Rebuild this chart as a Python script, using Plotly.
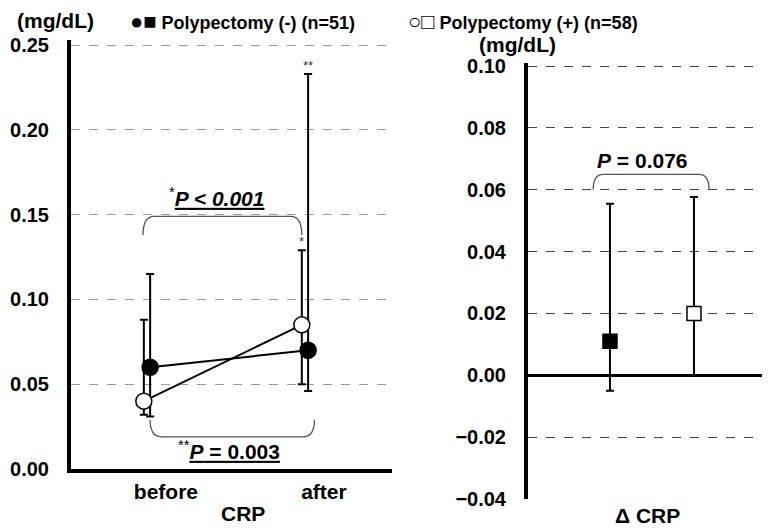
import plotly.graph_objects as go

# ---------------- data ----------------
timepoints = ["before", "after"]
neg_median = [0.060, 0.070]
neg_upper = [0.115, 0.233]
neg_lower = [0.031, 0.046]
pos_median = [0.040, 0.085]
pos_upper = [0.088, 0.129]
pos_lower = [0.032, 0.050]

delta_groups = ["Polypectomy (-)", "Polypectomy (+)"]
delta_median = [0.011, 0.020]
delta_upper = [0.0555, 0.0577]
delta_lower = [-0.005, 0.000]

left_ticks = [0.00, 0.05, 0.10, 0.15, 0.20, 0.25]
right_ticks = [-0.04, -0.02, 0.00, 0.02, 0.04, 0.06, 0.08, 0.10]

p_paired_pos = "<sup>*</sup><u><b><i>P &lt; 0.001</i></b></u>"
p_paired_neg = "<sup>**</sup><u><b><i>P</i> = 0.003</b></u>"
p_delta = "<b><i>P</i> = 0.076</b>"

# ---------------- style ----------------
FONT = "Liberation Sans"
OFF = 0.02
xs = list(range(len(timepoints)))
x_neg = [x + OFF for x in xs]
x_pos = [x - OFF for x in xs]


def err(vals, hi, lo):
    return dict(type="data", symmetric=False,
                array=[h - v for h, v in zip(hi, vals)],
                arrayminus=[v - l for v, l in zip(vals, lo)],
                color="black", thickness=2, width=4)


fig = go.Figure()

fig.add_trace(go.Scatter(
    x=x_neg, y=neg_median, mode="lines+markers",
    line=dict(color="black", width=2),
    marker=dict(symbol="circle", size=16, color="black",
                line=dict(color="black", width=1.5)),
    error_y=err(neg_median, neg_upper, neg_lower),
    xaxis="x", yaxis="y", showlegend=False))

fig.add_trace(go.Scatter(
    x=x_pos, y=pos_median, mode="lines+markers",
    line=dict(color="black", width=2),
    marker=dict(symbol="circle", size=16, color="white",
                line=dict(color="black", width=1.5)),
    error_y=err(pos_median, pos_upper, pos_lower),
    xaxis="x", yaxis="y", showlegend=False))

fig.add_trace(go.Scatter(
    x=[0], y=[delta_median[0]], mode="markers",
    marker=dict(symbol="square", size=14, color="black",
                line=dict(color="black", width=1.5)),
    error_y=err(delta_median[:1], delta_upper[:1], delta_lower[:1]),
    xaxis="x2", yaxis="y2", showlegend=False))

fig.add_trace(go.Scatter(
    x=[1], y=[delta_median[1]], mode="markers",
    marker=dict(symbol="square", size=14, color="white",
                line=dict(color="black", width=1.5)),
    error_y=err(delta_median[1:], delta_upper[1:], [0.0]),
    xaxis="x2", yaxis="y2", showlegend=False))

# page offset (body margin) and figure size so it fills the 770x528 window
OX, OY = 8, 8
W, H = 770 - OX, 528 - OY
tickfont = dict(family=FONT, size=20, color="black", weight=700)


def px_x(p):
    return (p - OX) / W


def px_y(p):
    return (528 - p) / H


LABEL_SHIFT = 0.12
fig.update_layout(
    width=W, height=H,
    margin=dict(l=0, r=0, t=0, b=0, autoexpand=False),
    paper_bgcolor="white", plot_bgcolor="white",
    xaxis=dict(domain=[px_x(71), px_x(392)], range=[-0.481, 1.551],
               tickvals=[x + LABEL_SHIFT for x in xs], ticktext=timepoints,
               tickfont=dict(family=FONT, size=21, color="black", weight=700),
               ticks="outside", ticklen=1, tickcolor="rgba(0,0,0,0)",
               showgrid=False, zeroline=False, automargin=False,
               showline=True, linecolor="black", linewidth=4),
    yaxis=dict(domain=[px_y(469), px_y(40)], range=[0, 0.253],
               tickvals=left_ticks, tickformat=".2f", tickfont=tickfont,
               ticks="outside", ticklen=14, tickcolor="rgba(0,0,0,0)",
               showgrid=True, gridcolor="#9a9a9a", griddash="dash", gridwidth=1,
               zeroline=False, showline=True, linecolor="black", linewidth=4,
               automargin=False),
    xaxis2=dict(domain=[px_x(528), 1.0], range=[-0.976, 1.905],
                showticklabels=False, showgrid=False, zeroline=False,
                showline=False, anchor="y2", automargin=False),
    yaxis2=dict(domain=[px_y(499), px_y(63)], range=[-0.04, 0.101],
                tickvals=right_ticks, tickformat=".2f", tickfont=tickfont,
                ticks="outside", ticklen=14, tickcolor="rgba(0,0,0,0)",
                showgrid=True, gridcolor="#444444", griddash="dash", gridwidth=1.2,
                zeroline=True, zerolinecolor="black", zerolinewidth=3,
                showline=True, linecolor="black", linewidth=4,
                anchor="x2", automargin=False),
)


def bracket(x0, x1, y_end, y_top, rx, xref, yref):
    path = (f"M {x0},{y_end} Q {x0},{y_top} {x0 + rx},{y_top} "
            f"L {x1 - rx},{y_top} Q {x1},{y_top} {x1},{y_end}")
    fig.add_shape(type="path", path=path, xref=xref, yref=yref,
                  line=dict(color="#555555", width=1.3))


bracket(x_pos[0] - 0.005, x_pos[1], 0.138, 0.149, 0.07, "x", "y")
bracket(x_neg[0], 1.06, 0.029, 0.019, 0.07, "x", "y")
bracket(-0.2, 1.18, 0.0600, 0.0650, 0.12, "x2", "y2")

ann_font = dict(family=FONT, size=21, color="black")
fig.add_annotation(x=0.44, y=0.1605, xref="x", yref="y", text=p_paired_pos,
                   showarrow=False, font=ann_font, xanchor="center", yanchor="middle")
fig.add_annotation(x=0.52, y=0.0115, xref="x", yref="y", text=p_paired_neg,
                   showarrow=False, font=ann_font, xanchor="center", yanchor="middle")
fig.add_annotation(x=0.39, y=0.0695, xref="x2", yref="y2", text=p_delta,
                   showarrow=False, font=ann_font, xanchor="center", yanchor="middle")
fig.add_annotation(x=x_neg[1], y=neg_upper[1] + 0.005, xref="x", yref="y",
                   text="**", showarrow=False, xanchor="center", yanchor="middle",
                   font=dict(family=FONT, size=13, color="#333"))
fig.add_annotation(x=x_pos[1], y=pos_upper[1] + 0.005, xref="x", yref="y",
                   text="*", showarrow=False, xanchor="center", yanchor="middle",
                   font=dict(family=FONT, size=13, color="#333"))

lab_font = dict(family=FONT, size=21, color="black", weight=700)


def paper_text(x, y, text, font, xanchor="center"):
    fig.add_annotation(x=px_x(x), y=px_y(y), xref="paper", yref="paper",
                       text=text, showarrow=False, font=font,
                       xanchor=xanchor, yanchor="middle")


paper_text(55, 20, "(mg/dL)", lab_font)
paper_text(517, 45, "(mg/dL)", lab_font)
paper_text(243, 513, "CRP", lab_font)
paper_text(647, 515, "Δ CRP", lab_font)

leg_font = dict(family=FONT, size=18, color="black", weight=700)
sym = '<span style="font-size:22px">%s</span> '
paper_text(128, 21, sym % "●■" + delta_groups[0] + " (n=51)", leg_font, "left")
paper_text(406, 21, sym % "○□" + delta_groups[1] + " (n=58)", leg_font, "left")

fig.write_html("out.html")
